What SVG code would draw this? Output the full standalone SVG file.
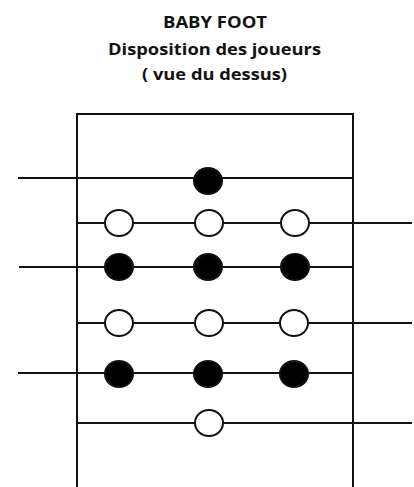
<svg xmlns="http://www.w3.org/2000/svg" width="414" height="487" viewBox="0 0 414 487">
  <style>
    .title { font-family: "Open Sans", "Noto Sans", sans-serif; font-weight: bold; font-size: 16px; fill: #111; text-anchor: middle; }
    .frame { fill: none; stroke: #111; stroke-width: 2; }
    .rod { stroke: #111; stroke-width: 2; fill: none; }
    .red { fill: #000; stroke: #111; stroke-width: 2; }
    .blue { fill: #fff; stroke: #111; stroke-width: 2; }
  </style>
  <rect width="414" height="487" fill="#fff"/>

  <g id="title">
    <text class="title" x="215" y="28" textLength="104" lengthAdjust="spacingAndGlyphs">BABY FOOT</text>
    <text class="title" x="214.5" y="55" textLength="213" lengthAdjust="spacingAndGlyphs">Disposition des joueurs</text>
    <text class="title" x="214.5" y="80" textLength="145" lengthAdjust="spacingAndGlyphs">( vue du dessus)</text>
  </g>

  <g id="table">
    <path class="frame" d="M77,490 V114 H353 V490"/>
  </g>

  <g id="rods">
    <line class="rod" x1="18" y1="178" x2="353" y2="178"/>
    <line class="rod" x1="77" y1="223" x2="412" y2="223"/>
    <line class="rod" x1="19" y1="267" x2="353" y2="267"/>
    <line class="rod" x1="77" y1="323" x2="412" y2="323"/>
    <line class="rod" x1="18" y1="373" x2="353" y2="373"/>
    <line class="rod" x1="77" y1="423" x2="412" y2="423"/>
  </g>

  <g id="rod1-players">
    <ellipse class="red" cx="208" cy="181" rx="14" ry="13"/>
  </g>
  <g id="rod2-players">
    <ellipse class="blue" cx="119" cy="223" rx="14" ry="13"/>
    <ellipse class="blue" cx="209" cy="223" rx="14" ry="13"/>
    <ellipse class="blue" cx="295" cy="223" rx="14" ry="13"/>
  </g>
  <g id="rod3-players">
    <ellipse class="red" cx="119" cy="267" rx="14" ry="13"/>
    <ellipse class="red" cx="208" cy="267" rx="14" ry="13"/>
    <ellipse class="red" cx="295" cy="267" rx="14" ry="13"/>
  </g>
  <g id="rod4-players">
    <ellipse class="blue" cx="119" cy="323" rx="14" ry="13"/>
    <ellipse class="blue" cx="209" cy="323" rx="14" ry="13"/>
    <ellipse class="blue" cx="294" cy="323" rx="14" ry="13"/>
  </g>
  <g id="rod5-players">
    <ellipse class="red" cx="119" cy="374" rx="14" ry="13"/>
    <ellipse class="red" cx="208" cy="374" rx="14" ry="13"/>
    <ellipse class="red" cx="294" cy="374" rx="14" ry="13"/>
  </g>
  <g id="rod6-players">
    <ellipse class="blue" cx="209" cy="423" rx="14" ry="13"/>
  </g>
</svg>
